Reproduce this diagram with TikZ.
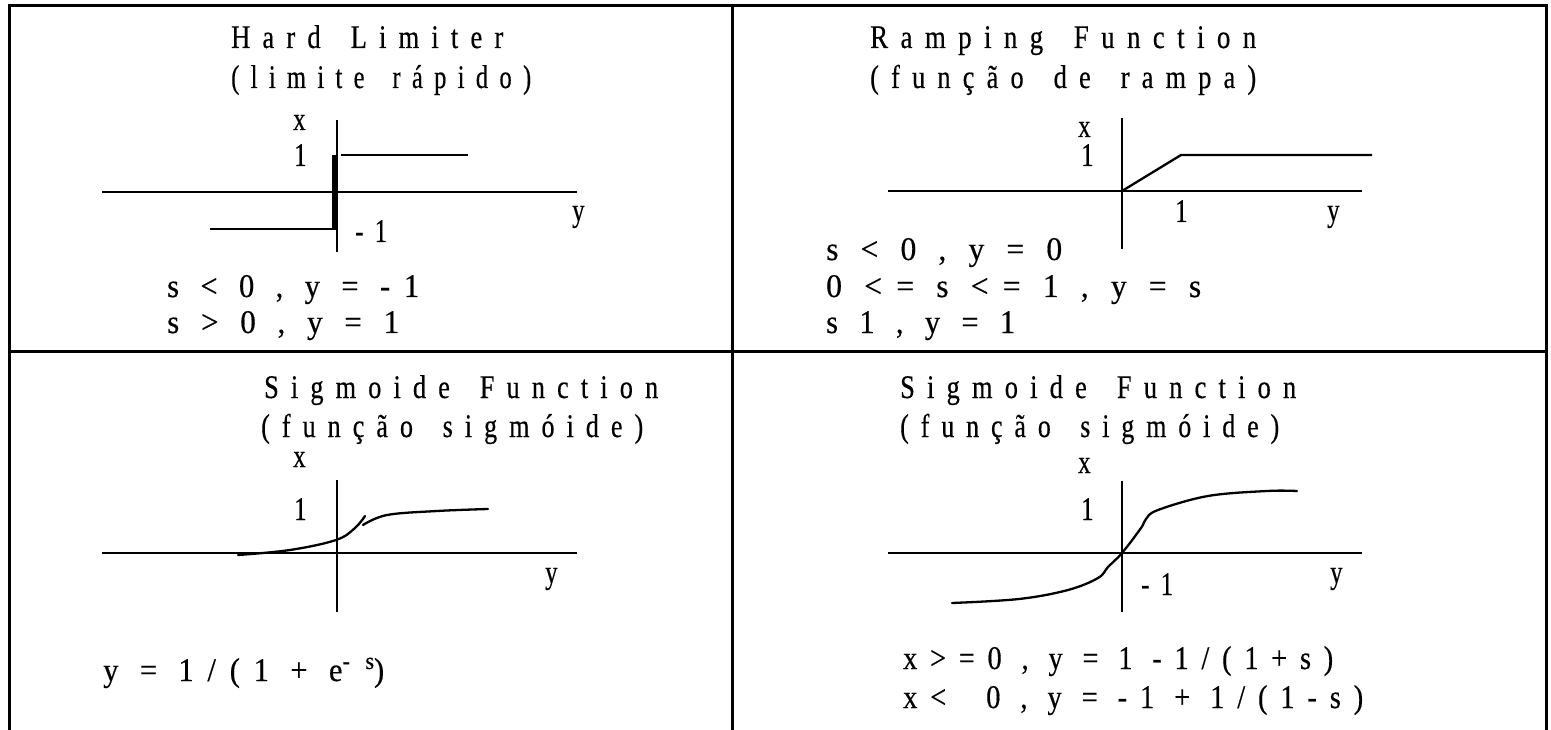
\documentclass[tikz,border=0pt]{standalone}
\usepackage{fontspec}
\usepackage{graphicx}
\setmainfont{Liberation Serif}
\newfontfamily\rf[LetterSpace=36,FakeStretch=0.78,FakeBold=0.4,WordSpace=1.6]{Liberation Serif}
\newfontfamily\rg[LetterSpace=34,FakeStretch=0.75,FakeBold=0.4]{Liberation Serif}
\newcommand\fitw[2]{\resizebox{#1pt}{\height}{#2}}
\tikzset{
  lbl/.style={anchor=base west, inner sep=0pt, font=\rg\fontsize{33}{39}\selectfont},
  ttl/.style={anchor=base west, inner sep=0pt, font=\rf\fontsize{33}{39}\selectfont},
  frame/.style={line width=3pt},
  axis/.style={line width=2.8pt},
  curve/.style={line width=2.3pt, line join=round, line cap=round}
}
\begin{document}
\begin{tikzpicture}[x=1pt,y=-1pt]
\useasboundingbox (0,0) rectangle (1551,730);
% frame
\draw[frame] (9,737) -- (9,6) -- (1546,6) -- (1546,737);
\draw[frame] (732,6) -- (732,737);
\draw[frame] (9,351) -- (1546,351);

% ---------- top left: hard limiter
\node[ttl] (t1) at (231,48) {\fitw{272}{Hard Limiter}};
\node[ttl] (t1b) at (231,88) {\fitw{300}{(limite rápido)}};
\draw[axis] (337,120) -- (337,252);
\draw[axis] (102,192) -- (577,192);
\fill (331.5,155) rectangle (337,230);
\draw[curve, line cap=butt] (341,155) -- (468,155);
\draw[curve, line cap=butt] (210,229) -- (335,229);
\node[lbl] (x1) at (293,130) {x};
\node[lbl] (o1) at (294,166) {1};
\node[lbl] (m1) at (355,242) {-1};
\node[lbl] (y1) at (572,221) {y};
\node[lbl] (f1a) at (167,297) {\fitw{252}{s < 0 , y = -1}};
\node[lbl] (f1b) at (167,333) {\fitw{232}{s > 0 , y = 1}};

% ---------- top right: ramping
\node[ttl] (t2) at (870,48) {\fitw{386}{Ramping Function}};
\node[ttl] (t2b) at (870,88) {\fitw{386}{(função de rampa)}};
\draw[axis] (1122,118) -- (1122,249);
\draw[axis] (888,191) -- (1362,191);
\draw[curve, line cap=butt] (1122,191) -- (1181,155) -- (1372,155);
\node[lbl] (x2) at (1078,137) {x};
\node[lbl] (o2) at (1081,166) {1};
\node[lbl] (o2b) at (1175,222) {1};
\node[lbl] (y2) at (1327,221) {y};
\node[lbl] (f2a) at (826,260) {\fitw{236}{s < 0 , y = 0}};
\node[lbl] (f2b) at (826,297) {\fitw{375}{0 <= s <= 1 , y = s}};
\node[lbl] (f2c) at (826,333) {\fitw{189}{s 1 , y = 1}};

% ---------- bottom left: sigmoid
\node[ttl] (t3) at (264,398) {\fitw{394}{Sigmoide Function}};
\node[ttl] (t3b) at (261,437) {\fitw{382}{(função sigmóide)}};
\draw[axis] (337,480) -- (337,612);
\draw[axis] (102,553) -- (577,553);
\draw[curve] plot[smooth, tension=0.6] coordinates {(238,555) (290,550) (336,540) (355,528) (365,516)};
\draw[curve] plot[smooth, tension=0.6] coordinates {(363,525) (387,515) (437,511) (488,509)};
\node[lbl] (x3) at (293,467) {x};
\node[lbl] (o3) at (294,520) {1};
\node[lbl] (y3) at (545,583) {y};
\node[lbl] (f3) at (103,681) {\fitw{281}{y = 1/(1 + e\raisebox{12pt}{\fontsize{24}{28}\selectfont - s})}};

% ---------- bottom right: sigmoid
\node[ttl] (t4) at (900,398) {\fitw{396}{Sigmoide Function}};
\node[ttl] (t4b) at (900,437) {\fitw{379}{(função sigmóide)}};
\draw[axis] (1122,481) -- (1122,612);
\draw[axis] (888,553) -- (1362,553);
\draw[curve] plot[smooth, tension=0.6] coordinates {(952,603) (1019,599) (1068,590) (1098,578) (1108,567) (1122,553) (1141,528) (1146,519) (1158,510) (1208,496) (1267,491) (1297,491)};
\node[lbl] (x4) at (1078,473) {x};
\node[lbl] (o4) at (1081,520) {1};
\node[lbl] (m4) at (1141,595) {-1};
\node[lbl] (y4) at (1330,583) {y};
\node[lbl] (f4a) at (903,669) {\fitw{430}{x>=0 , y = 1 -1/(1+s)}};
\node[lbl] (f4b) at (903,708) {\fitw{460}{x< \ 0 , y = -1 + 1/(1-s)}};
\end{tikzpicture}
\end{document}
